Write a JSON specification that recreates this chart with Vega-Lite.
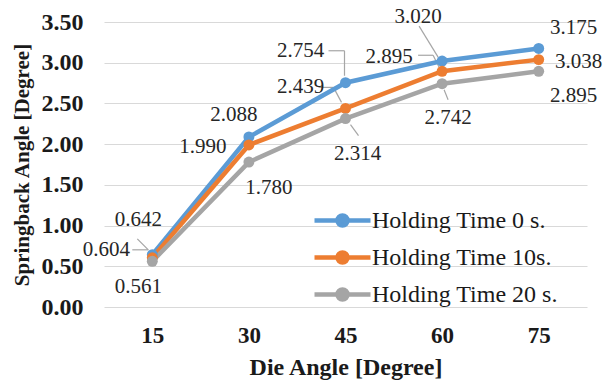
{
  "$schema": "https://vega.github.io/schema/vega-lite/v6.json",
  "width": 483,
  "height": 285,
  "autosize": "none",
  "padding": {"left": 104, "top": 22, "right": 16, "bottom": 82},
  "background": "white",
  "config": {
    "view": {"stroke": null},
    "font": "Liberation Serif",
    "axis": {"labelFont": "Liberation Serif", "titleFont": "Liberation Serif", "labelColor": "#1a1a1a", "titleColor": "#1a1a1a"},
    "text": {"fontSize": 21, "color": "#262626", "font": "Liberation Serif"},
    "rule": {"stroke": "#a6a6a6", "strokeWidth": 1.2}
  },
  "data": {
    "values": [
      {"angle": "15", "series": "Holding Time 0 s.", "value": 0.642},
      {"angle": "30", "series": "Holding Time 0 s.", "value": 2.088},
      {"angle": "45", "series": "Holding Time 0 s.", "value": 2.754},
      {"angle": "60", "series": "Holding Time 0 s.", "value": 3.020},
      {"angle": "75", "series": "Holding Time 0 s.", "value": 3.175},
      {"angle": "15", "series": "Holding Time 10s.", "value": 0.604},
      {"angle": "30", "series": "Holding Time 10s.", "value": 1.990},
      {"angle": "45", "series": "Holding Time 10s.", "value": 2.439},
      {"angle": "60", "series": "Holding Time 10s.", "value": 2.895},
      {"angle": "75", "series": "Holding Time 10s.", "value": 3.038},
      {"angle": "15", "series": "Holding Time 20 s.", "value": 0.561},
      {"angle": "30", "series": "Holding Time 20 s.", "value": 1.780},
      {"angle": "45", "series": "Holding Time 20 s.", "value": 2.314},
      {"angle": "60", "series": "Holding Time 20 s.", "value": 2.742},
      {"angle": "75", "series": "Holding Time 20 s.", "value": 2.895}
    ]
  },
  "encoding": {
    "x": {
      "field": "angle", "type": "ordinal", "sort": ["15", "30", "45", "60", "75"],
      "scale": {"type": "point", "padding": 0.5},
      "axis": {
        "title": "Die Angle [Degree]", "labelAngle": 0, "labelFontSize": 23, "labelFontWeight": "bold",
        "labelPadding": 17, "ticks": false, "domain": false, "grid": false,
        "titleFontSize": 24, "titleFontWeight": "bold", "titlePadding": 8
      }
    },
    "y": {
      "field": "value", "type": "quantitative",
      "scale": {"domain": [0, 3.5], "nice": false},
      "axis": {
        "title": "Springback Angle [Degree]", "values": [0, 0.5, 1, 1.5, 2, 2.5, 3, 3.5], "format": ".2f",
        "labelFontSize": 24, "labelFontWeight": "bold", "labelPadding": 21, "ticks": false, "domain": false,
        "gridColor": "#d9d9d9", "gridWidth": 1.2,
        "titleFontSize": 21, "titleFontWeight": "bold", "titlePadding": 9
      }
    }
  },
  "layer": [
    {"transform": [{"filter": "datum.series == 'Holding Time 10s.' && datum.angle == '15'"}], "mark": {"type": "rule", "xOffset": -20, "yOffset": -8, "x2Offset": -4, "y2Offset": -8}, "encoding": {"x2": {"field": "angle"}, "y2": {"field": "value"}}},
    {"transform": [{"filter": "datum.series == 'Holding Time 10s.' && datum.angle == '15'"}], "mark": {"type": "rule", "xOffset": -15, "yOffset": -19, "x2Offset": -4, "y2Offset": -8}, "encoding": {"x2": {"field": "angle"}, "y2": {"field": "value"}}},
    {"transform": [{"filter": "datum.series == 'Holding Time 0 s.' && datum.angle == '45'"}], "mark": {"type": "rule", "xOffset": -17, "yOffset": -32, "x2Offset": -1, "y2Offset": -32}, "encoding": {"x2": {"field": "angle"}, "y2": {"field": "value"}}},
    {"transform": [{"filter": "datum.series == 'Holding Time 0 s.' && datum.angle == '45'"}], "mark": {"type": "rule", "xOffset": -1, "yOffset": -32, "x2Offset": -1, "y2Offset": -7}, "encoding": {"x2": {"field": "angle"}, "y2": {"field": "value"}}},
    {"transform": [{"filter": "datum.series == 'Holding Time 10s.' && datum.angle == '45'"}], "mark": {"type": "rule", "xOffset": -27, "yOffset": -21, "x2Offset": -12, "y2Offset": -21}, "encoding": {"x2": {"field": "angle"}, "y2": {"field": "value"}}},
    {"transform": [{"filter": "datum.series == 'Holding Time 10s.' && datum.angle == '45'"}], "mark": {"type": "rule", "xOffset": -12, "yOffset": -21, "x2Offset": -4, "y2Offset": -6}, "encoding": {"x2": {"field": "angle"}, "y2": {"field": "value"}}},
    {"transform": [{"filter": "datum.series == 'Holding Time 20 s.' && datum.angle == '45'"}], "mark": {"type": "rule", "xOffset": 5, "yOffset": 6, "x2Offset": 13, "y2Offset": 17}, "encoding": {"x2": {"field": "angle"}, "y2": {"field": "value"}}},
    {"transform": [{"filter": "datum.series == 'Holding Time 0 s.' && datum.angle == '60'"}], "mark": {"type": "rule", "xOffset": -23, "yOffset": -35, "x2Offset": -4, "y2Offset": -4}, "encoding": {"x2": {"field": "angle"}, "y2": {"field": "value"}}},
    {"transform": [{"filter": "datum.series == 'Holding Time 10s.' && datum.angle == '60'"}], "mark": {"type": "rule", "xOffset": -24, "yOffset": -16, "x2Offset": -9, "y2Offset": -16}, "encoding": {"x2": {"field": "angle"}, "y2": {"field": "value"}}},
    {"transform": [{"filter": "datum.series == 'Holding Time 10s.' && datum.angle == '60'"}], "mark": {"type": "rule", "xOffset": -9, "yOffset": -16, "x2Offset": -3, "y2Offset": -4}, "encoding": {"x2": {"field": "angle"}, "y2": {"field": "value"}}},
    {"transform": [{"filter": "datum.series == 'Holding Time 20 s.' && datum.angle == '60'"}], "mark": {"type": "rule", "xOffset": 2, "yOffset": 6, "x2Offset": 6, "y2Offset": 16}, "encoding": {"x2": {"field": "angle"}, "y2": {"field": "value"}}},
    {
      "mark": {"type": "line", "strokeWidth": 4.5, "point": {"filled": true, "size": 120, "opacity": 1}},
      "encoding": {
        "color": {
          "field": "series", "type": "nominal",
          "scale": {"domain": ["Holding Time 0 s.", "Holding Time 10s.", "Holding Time 20 s."], "range": ["#5b9bd5", "#ed7d31", "#a5a5a5"]},
          "legend": {
            "title": null, "orient": "none", "legendX": 216, "legendY": 176, "padding": 0,
            "symbolType": "M-1.4,0L1.4,0M0.25,0A0.25,0.25 0 1,1 -0.25,0A0.25,0.25 0 1,1 0.25,0Z",
            "symbolSize": 1600, "symbolStrokeWidth": 4.5,
            "labelFont": "Liberation Serif", "labelFontSize": 24, "labelColor": "#1a1a1a", "labelOffset": 7,
            "labelLimit": 400, "rowPadding": 0
          }
        }
      }
    },
    {"transform": [{"filter": "datum.series == 'Holding Time 0 s.' && datum.angle == '15'"}], "mark": {"type": "text", "dx": -14, "dy": -35}, "encoding": {"text": {"field": "value", "format": ".3f"}}},
    {"transform": [{"filter": "datum.series == 'Holding Time 10s.' && datum.angle == '15'"}], "mark": {"type": "text", "dx": -46, "dy": -8}, "encoding": {"text": {"field": "value", "format": ".3f"}}},
    {"transform": [{"filter": "datum.series == 'Holding Time 20 s.' && datum.angle == '15'"}], "mark": {"type": "text", "dx": -14, "dy": 26}, "encoding": {"text": {"field": "value", "format": ".3f"}}},
    {"transform": [{"filter": "datum.series == 'Holding Time 0 s.' && datum.angle == '30'"}], "mark": {"type": "text", "dx": -15, "dy": -22}, "encoding": {"text": {"field": "value", "format": ".3f"}}},
    {"transform": [{"filter": "datum.series == 'Holding Time 10s.' && datum.angle == '30'"}], "mark": {"type": "text", "dx": -46, "dy": 2}, "encoding": {"text": {"field": "value", "format": ".3f"}}},
    {"transform": [{"filter": "datum.series == 'Holding Time 20 s.' && datum.angle == '30'"}], "mark": {"type": "text", "dx": 20, "dy": 26}, "encoding": {"text": {"field": "value", "format": ".3f"}}},
    {"transform": [{"filter": "datum.series == 'Holding Time 0 s.' && datum.angle == '45'"}], "mark": {"type": "text", "dx": -45, "dy": -32}, "encoding": {"text": {"field": "value", "format": ".3f"}}},
    {"transform": [{"filter": "datum.series == 'Holding Time 10s.' && datum.angle == '45'"}], "mark": {"type": "text", "dx": -45, "dy": -21}, "encoding": {"text": {"field": "value", "format": ".3f"}}},
    {"transform": [{"filter": "datum.series == 'Holding Time 20 s.' && datum.angle == '45'"}], "mark": {"type": "text", "dx": 12, "dy": 35}, "encoding": {"text": {"field": "value", "format": ".3f"}}},
    {"transform": [{"filter": "datum.series == 'Holding Time 0 s.' && datum.angle == '60'"}], "mark": {"type": "text", "dx": -24, "dy": -44}, "encoding": {"text": {"field": "value", "format": ".3f"}}},
    {"transform": [{"filter": "datum.series == 'Holding Time 10s.' && datum.angle == '60'"}], "mark": {"type": "text", "dx": -53, "dy": -14}, "encoding": {"text": {"field": "value", "format": ".3f"}}},
    {"transform": [{"filter": "datum.series == 'Holding Time 20 s.' && datum.angle == '60'"}], "mark": {"type": "text", "dx": 6, "dy": 34}, "encoding": {"text": {"field": "value", "format": ".3f"}}},
    {"transform": [{"filter": "datum.series == 'Holding Time 0 s.' && datum.angle == '75'"}], "mark": {"type": "text", "dx": 35, "dy": -20}, "encoding": {"text": {"field": "value", "format": ".3f"}}},
    {"transform": [{"filter": "datum.series == 'Holding Time 10s.' && datum.angle == '75'"}], "mark": {"type": "text", "dx": 40, "dy": 2}, "encoding": {"text": {"field": "value", "format": ".3f"}}},
    {"transform": [{"filter": "datum.series == 'Holding Time 20 s.' && datum.angle == '75'"}], "mark": {"type": "text", "dx": 35, "dy": 25}, "encoding": {"text": {"field": "value", "format": ".3f"}}}
  ]
}
